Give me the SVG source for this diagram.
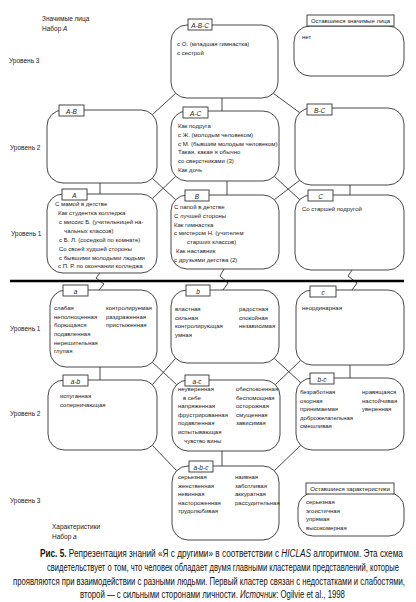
<svg xmlns="http://www.w3.org/2000/svg" width="416" height="602" viewBox="0 0 416 602">
<style>
.bx{fill:#fff;stroke:#333;stroke-width:0.9}
.lb{fill:#fff;stroke:#333;stroke-width:0.9}
.t{font-family:"Liberation Sans",Arial,sans-serif;font-size:6px;fill:#222}
.li{font-family:"Liberation Sans",Arial,sans-serif;font-size:6.5px;font-style:italic;text-anchor:middle;fill:#222}
.lm{font-family:"Liberation Sans",Arial,sans-serif;font-size:6px;text-anchor:middle;fill:#222}
.lv{font-family:"Liberation Sans",Arial,sans-serif;font-size:6.5px;fill:#222}
.cn{stroke:#333;stroke-width:0.9;fill:none}
.cap{font-family:"Liberation Sans",Arial,sans-serif;font-size:11.5px;fill:#111}
</style>
<rect width="416" height="602" fill="#fff"/>

<g id="side-labels">
<text class="lv" x="42" y="21">Значимые лица</text>
<text class="lv" x="42" y="31">Набор <tspan font-style="italic">А</tspan></text>
<text class="lv" x="9" y="63">Уровень 3</text>
<text class="lv" x="10" y="150">Уровень 2</text>
<text class="lv" x="11" y="236">Уровень 1</text>
<text class="lv" x="10" y="331">Уровень 1</text>
<text class="lv" x="10" y="416">Уровень 2</text>
<text class="lv" x="10" y="503">Уровень 3</text>
<text class="lv" x="52" y="529">Характеристики</text>
<text class="lv" x="52" y="539">Набор <tspan font-style="italic">a</tspan></text>
</g>

<g id="connectors">
<path class="cn" d="M175.7,93.3 L152.3,114.7"/>
<path class="cn" d="M273.3,93.3 L299.7,112.7"/>
<path class="cn" d="M222,98 V111"/>
<path class="cn" d="M100,183 V194"/>
<path class="cn" d="M152.3,178.3 L175.7,199.7"/>
<path class="cn" d="M175.7,176.3 L152.3,198.7"/>
<path class="cn" d="M227,181 V195"/>
<path class="cn" d="M274.3,176.3 L299.7,199.7"/>
<path class="cn" d="M299.7,180.3 L274.3,199.7"/>
<path class="cn" d="M350,185 V195"/>
<path class="cn" d="M100,273 L96,278 L104,284 L99,290"/>
<path class="cn" d="M224,269 L220,276 L228,283 L223,290"/>
<path class="cn" d="M352,270 L348,276 L357,283 L352,290"/>
<path class="cn" d="M100,367 V380"/>
<path class="cn" d="M152.3,362.3 L176.7,384.7"/>
<path class="cn" d="M175.7,358.3 L152.3,384.7"/>
<path class="cn" d="M274.3,358.3 L300.7,382.7"/>
<path class="cn" d="M300.7,360.3 L275.3,384.7"/>
<path class="cn" d="M350,365 V378"/>
<path class="cn" d="M152.3,445.3 L176.7,470.7"/>
<path class="cn" d="M222,451 V466"/>
<path class="cn" d="M300.7,445.3 L274.3,470.7"/>
</g>

<line x1="10" y1="281" x2="404" y2="281" stroke="#000" stroke-width="2.6"/>

<g id="node-ABC">
<rect class="bx" x="171" y="25" width="107" height="73" rx="16"/>
<rect class="lb" x="188" y="19" width="24" height="11"/>
<text class="li" x="200" y="27.5">A-B-C</text>
<text class="t" x="177" y="46">с О. (младшая гимнастка)</text>
<text class="t" x="177" y="55">с сестрой</text>
</g>

<g id="node-rest-top">
<rect class="bx" x="294" y="26" width="110" height="50" rx="16"/>
<rect class="lb" x="307" y="15" width="87" height="11"/>
<text class="lm" x="350.5" y="23">Оставшиеся значимые лица</text>
<text class="t" x="302" y="39">нет</text>
</g>

<g id="node-AB">
<rect class="bx" x="47" y="110" width="110" height="73" rx="16"/>
<rect class="lb" x="59" y="105" width="25" height="11"/>
<text class="li" x="71.5" y="113.5">A-B</text>
</g>

<g id="node-AC">
<rect class="bx" x="171" y="111" width="108" height="70" rx="16"/>
<rect class="lb" x="183" y="107" width="25" height="11"/>
<text class="li" x="195.5" y="115.5">A-C</text>
<text class="t" x="178" y="128">Как подруга</text>
<text class="t" x="178" y="137">с Ж. (молодым человеком)</text>
<text class="t" x="178" y="145.5">с М. (бывшим молодым человеком)</text>
<text class="t" x="178" y="154">Такая, какая я обычно</text>
<text class="t" x="178" y="163">со сверстниками (3)</text>
<text class="t" x="178" y="172">Как дочь</text>
</g>

<g id="node-BC">
<rect class="bx" x="295" y="108" width="109" height="77" rx="16"/>
<rect class="lb" x="307" y="104" width="25" height="11"/>
<text class="li" x="319.5" y="112.5">B-C</text>
</g>

<g id="node-A">
<rect class="bx" x="47" y="194" width="110" height="79" rx="16"/>
<rect class="lb" x="62" y="189" width="25" height="11"/>
<text class="li" x="74.5" y="197.5">A</text>
<text class="t" x="55" y="206">С мамой в детстве</text>
<text class="t" x="58" y="215">Как студентка колледжа</text>
<text class="t" x="59" y="224">с миссис Б. (учительницей на-</text>
<text class="t" x="64" y="232.5">чальных  классов)</text>
<text class="t" x="59" y="241.5">с Б. Л. (соседкой по комнате)</text>
<text class="t" x="59" y="250.5">Со своей худшей стороны</text>
<text class="t" x="59" y="259.5">с бывшими молодыми людьми</text>
<text class="t" x="58" y="268">с П. Р. по окончании колледжа</text>
</g>

<g id="node-B">
<rect class="bx" x="171" y="195" width="108" height="74" rx="16"/>
<rect class="lb" x="185" y="190" width="24" height="11"/>
<text class="li" x="197" y="198.5">B</text>
<text class="t" x="174" y="209">С папой в детстве</text>
<text class="t" x="174" y="218">С лучшей стороны</text>
<text class="t" x="174" y="226.5">Как гимнастка</text>
<text class="t" x="174" y="235">с мистером Н. (учителем</text>
<text class="t" x="187" y="244">старших классов)</text>
<text class="t" x="176" y="253">Как наставник</text>
<text class="t" x="174" y="262">с друзьями детства (2)</text>
</g>

<g id="node-C">
<rect class="bx" x="295" y="195" width="109" height="75" rx="16"/>
<rect class="lb" x="308" y="190" width="25" height="11"/>
<text class="li" x="320.5" y="198.5">C</text>
<text class="t" x="302" y="211">Со старшей подругой</text>
</g>

<g id="node-a">
<rect class="bx" x="50" y="290" width="107" height="77" rx="16"/>
<rect class="lb" x="63" y="285" width="25" height="11"/>
<text class="li" x="75.5" y="293.5">a</text>
<text class="t" x="54" y="310">слабая</text>
<text class="t" x="54" y="318.7">неполноценная</text>
<text class="t" x="54" y="327.4">борющаяся</text>
<text class="t" x="54" y="336">подавленная</text>
<text class="t" x="54" y="344.7">нерешительная</text>
<text class="t" x="54" y="353.4">глупая</text>
<text class="t" x="106" y="310">контролируемая</text>
<text class="t" x="106" y="318.7">раздраженная</text>
<text class="t" x="106" y="327.4">пристыженная</text>
</g>

<g id="node-b">
<rect class="bx" x="171" y="290" width="108" height="73" rx="16"/>
<rect class="lb" x="186" y="285" width="24" height="11"/>
<text class="li" x="198" y="293.5">b</text>
<text class="t" x="175" y="311">властная</text>
<text class="t" x="175" y="319.7">сильная</text>
<text class="t" x="175" y="328.4">контролирующая</text>
<text class="t" x="175" y="337">умная</text>
<text class="t" x="239" y="311">радостная</text>
<text class="t" x="239" y="319.7">спокойная</text>
<text class="t" x="239" y="328.4">независимая</text>
</g>

<g id="node-c">
<rect class="bx" x="296" y="290" width="108" height="75" rx="16"/>
<rect class="lb" x="310" y="286" width="26" height="11"/>
<text class="li" x="323" y="294.5">c</text>
<text class="t" x="302" y="310">неординарная</text>
</g>

<g id="node-ab">
<rect class="bx" x="48" y="380" width="109" height="70" rx="16"/>
<rect class="lb" x="63" y="375" width="25" height="11"/>
<text class="li" x="75.5" y="383.5">a-b</text>
<text class="t" x="60" y="398">испуганная</text>
<text class="t" x="60" y="406.5">соперничающая</text>
</g>

<g id="node-ac">
<rect class="bx" x="172" y="380" width="108" height="71" rx="16"/>
<rect class="lb" x="185" y="375" width="24" height="11"/>
<text class="li" x="197" y="383.5">a-c</text>
<text class="t" x="178" y="391">неуверенная</text>
<text class="t" x="183" y="399.6">в себе</text>
<text class="t" x="178" y="408.2">напряженная</text>
<text class="t" x="178" y="416.8">фрустрированная</text>
<text class="t" x="178" y="425.4">подавленная</text>
<text class="t" x="178" y="434">испытывающая</text>
<text class="t" x="184" y="442.6">чувство вины</text>
<text class="t" x="236" y="391">обеспокоенная</text>
<text class="t" x="236" y="399.6">беспомощная</text>
<text class="t" x="236" y="408.2">осторожная</text>
<text class="t" x="236" y="416.8">смущенная</text>
<text class="t" x="236" y="425.4">зависимая</text>
</g>

<g id="node-bc">
<rect class="bx" x="296" y="378" width="108" height="72" rx="16"/>
<rect class="lb" x="310" y="373" width="24" height="11"/>
<text class="li" x="322" y="381.5">b-c</text>
<text class="t" x="300" y="394">безработная</text>
<text class="t" x="300" y="402.6">озорная</text>
<text class="t" x="300" y="411.2">принимаемая</text>
<text class="t" x="300" y="419.8">доброжелательная</text>
<text class="t" x="300" y="428.4">смешливая</text>
<text class="t" x="362" y="394">нравящаяся</text>
<text class="t" x="362" y="402.6">настойчивая</text>
<text class="t" x="362" y="411.2">уверенная</text>
</g>

<g id="node-abc">
<rect class="bx" x="172" y="466" width="107" height="74" rx="16"/>
<rect class="lb" x="189" y="461" width="24" height="11"/>
<text class="li" x="201" y="469.5">a-b-c</text>
<text class="t" x="178" y="479">серьезная</text>
<text class="t" x="178" y="487.6">женственная</text>
<text class="t" x="178" y="496.2">невинная</text>
<text class="t" x="178" y="504.8">настороженная</text>
<text class="t" x="178" y="513.4">трудолюбивая</text>
<text class="t" x="235" y="479">наивная</text>
<text class="t" x="235" y="487.6">заботливая</text>
<text class="t" x="235" y="496.2">аккуратная</text>
<text class="t" x="235" y="504.8">рассудительная</text>
</g>

<g id="node-rest-bottom">
<rect class="bx" x="298" y="493" width="106" height="43" rx="15"/>
<rect class="lb" x="306" y="483" width="88" height="11"/>
<text class="lm" x="350" y="491">Оставшиеся характеристики</text>
<text class="t" x="306" y="504">серьезная</text>
<text class="t" x="306" y="512.5">эгоистичная</text>
<text class="t" x="306" y="521">упрямая</text>
<text class="t" x="306" y="529.5">высокомерная</text>
</g>

<g id="caption">
<text class="cap" transform="translate(40 557) scale(0.69 1)" x="0" y="0" textLength="526" lengthAdjust="spacingAndGlyphs"><tspan font-weight="bold">Рис. 5.</tspan> Репрезентация знаний «Я с другими» в соответствии с <tspan font-style="italic">HICLAS</tspan> алгоритмом. Эта схема</text>
<text class="cap" transform="translate(47 571) scale(0.69 1)" x="0" y="0" textLength="510" lengthAdjust="spacingAndGlyphs">свидетельствует о том, что человек обладает двумя главными кластерами представлений, которые</text>
<text class="cap" transform="translate(13 585) scale(0.69 1)" x="0" y="0" textLength="568" lengthAdjust="spacingAndGlyphs">проявляются при взаимодействии с разными людьми. Первый кластер связан с недостатками и слабостями,</text>
<text class="cap" transform="translate(80 598) scale(0.69 1)" x="0" y="0" textLength="384" lengthAdjust="spacingAndGlyphs">второй — с сильными сторонами личности. <tspan font-style="italic">Источник</tspan>: Ogilvie et al., 1998</text>
</g>
</svg>
